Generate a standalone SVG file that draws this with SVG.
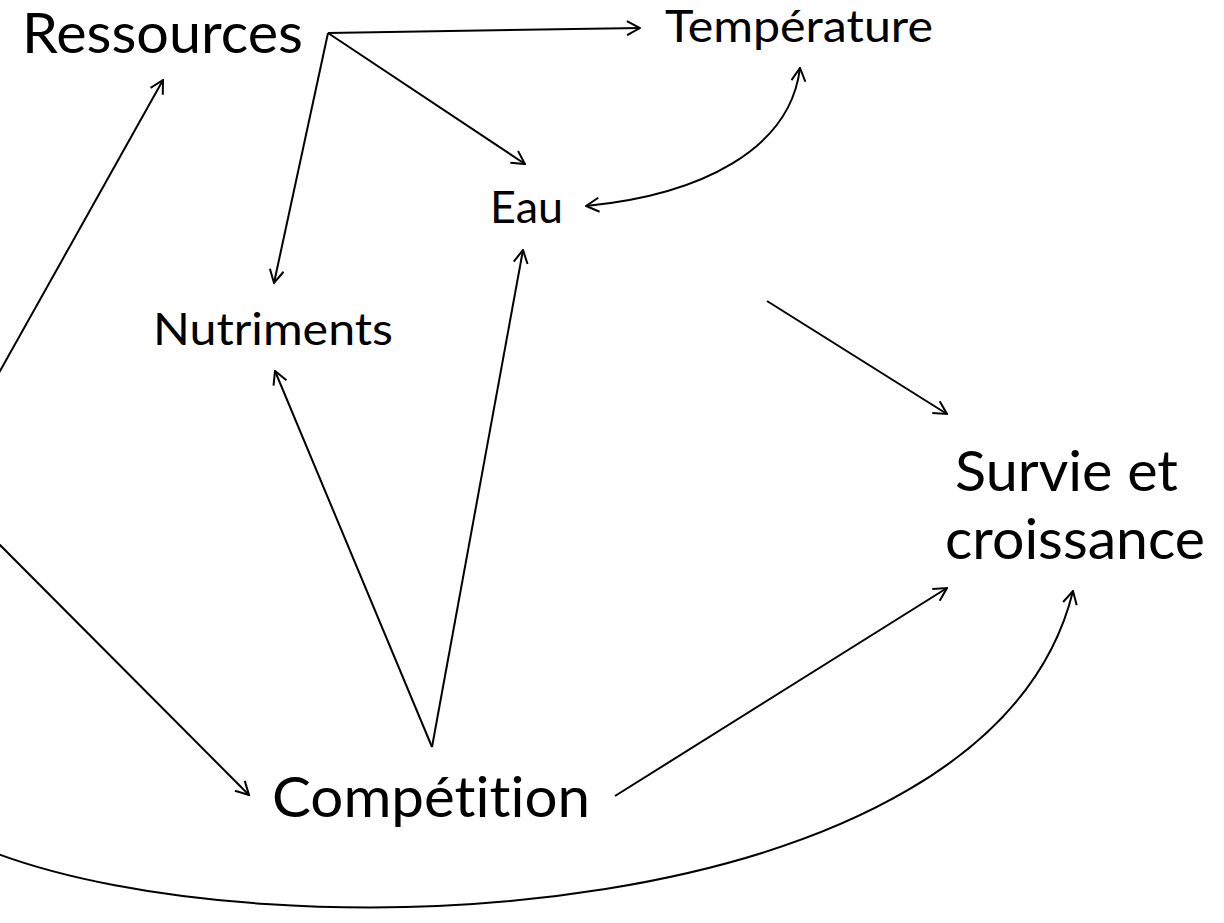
<svg xmlns="http://www.w3.org/2000/svg" width="1224" height="923" viewBox="0 0 1224 923">
  <style>
    .lbl { font-family: "Lato", "Open Sans", "Liberation Sans", sans-serif; fill: #000; font-variant-ligatures: none; font-feature-settings: "liga" 0, "clig" 0; }
    .big { font-size: 56px; }
    .small { font-size: 45px; }
    .edge { fill: none; stroke: #000; stroke-width: 2; }
  </style>
  <defs>
    <marker id="arr" viewBox="0 0 16 16" refX="15" refY="8" markerWidth="16" markerHeight="16" markerUnits="userSpaceOnUse" orient="auto-start-reverse">
      <path d="M2,1 L15,8 L2,15" fill="none" stroke="#000" stroke-width="2"/>
    </marker>
  </defs>
  <rect width="1224" height="923" fill="#fff"/>

  <g id="connectors">
    <line class="edge" x1="328" y1="33" x2="640" y2="28" marker-end="url(#arr)"/>
    <line class="edge" x1="328" y1="33" x2="525" y2="164" marker-end="url(#arr)"/>
    <line class="edge" x1="328" y1="33" x2="274" y2="283" marker-end="url(#arr)"/>
    <path class="edge" d="M586,206 C700,195 790,150 800,68" marker-start="url(#arr)" marker-end="url(#arr)"/>
    <line class="edge" x1="432" y1="747" x2="275" y2="371" marker-end="url(#arr)"/>
    <line class="edge" x1="432" y1="747" x2="523" y2="250" marker-end="url(#arr)"/>
    <line class="edge" x1="615" y1="796" x2="947" y2="588" marker-end="url(#arr)"/>
    <line class="edge" x1="767" y1="301" x2="947" y2="414" marker-end="url(#arr)"/>
    <line class="edge" x1="-5" y1="380" x2="163" y2="80" marker-end="url(#arr)"/>
    <line class="edge" x1="-5" y1="540" x2="249" y2="795" marker-end="url(#arr)"/>
    <path class="edge" d="M-10,851 C270,960 990,930 1073,591" marker-end="url(#arr)"/>
  </g>

  <g id="node-ressources">
    <text class="lbl big" x="22" y="53" textLength="281" lengthAdjust="spacingAndGlyphs">Ressources</text>
  </g>
  <g id="node-temperature">
    <text class="lbl small" x="665" y="42" textLength="268" lengthAdjust="spacingAndGlyphs">Température</text>
  </g>
  <g id="node-eau">
    <text class="lbl small" x="490" y="223" textLength="73" lengthAdjust="spacingAndGlyphs">Eau</text>
  </g>
  <g id="node-nutriments">
    <text class="lbl small" x="153" y="345" textLength="240" lengthAdjust="spacingAndGlyphs">Nutriments</text>
  </g>
  <g id="node-survie">
    <text class="lbl big" x="955" y="491" textLength="223" lengthAdjust="spacingAndGlyphs">Survie et</text>
    <text class="lbl big" x="945" y="559" textLength="260" lengthAdjust="spacingAndGlyphs">croissance</text>
  </g>
  <g id="node-competition">
    <text class="lbl big" x="272" y="817" textLength="318" lengthAdjust="spacingAndGlyphs">Compétition</text>
  </g>
</svg>
